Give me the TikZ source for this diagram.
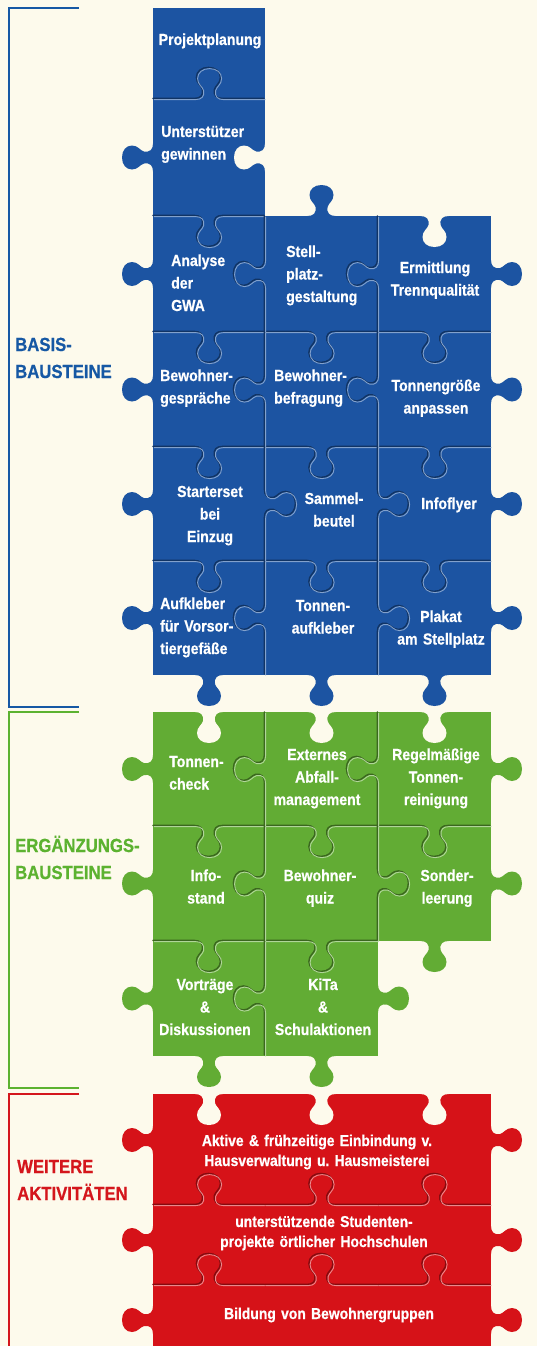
\documentclass[tikz,border=0pt]{standalone}
\usepackage{fontspec}
\setmainfont{Liberation Sans}[FakeStretch=0.88, BoldFeatures={FakeBold=0.6}]
\definecolor{bgc}{RGB}{253,250,236}
\definecolor{pblue}{RGB}{28,84,162}
\definecolor{pgreen}{RGB}{98,172,52}
\definecolor{pred}{RGB}{214,18,24}
\definecolor{tblue}{RGB}{22,88,164}
\definecolor{tgreen}{RGB}{92,178,48}
\definecolor{tred}{RGB}{212,22,28}
\tikzset{
  pics/tab/.style={code={\fill[fill=\tabcol] (-14,-1.5) -- (-14,0) .. controls (-8,0) and (-5,3) .. (-6,9) .. controls (-7,13) and (-12,15) .. (-12,21) .. controls (-12,27) and (-7,31) .. (0,31) .. controls (7,31) and (12,27) .. (12,21) .. controls (12,15) and (7,13) .. (6,9) .. controls (5,3) and (8,0) .. (14,0) -- (14,-1.5) -- cycle;}},
  pics/seam/.style={code={\draw[draw=\seamcol, line width=\seamw, line cap=round, line join=round] (-#1,0) -- (-14,0) .. controls (-8,0) and (-5,3) .. (-6,9) .. controls (-7,13) and (-12,15) .. (-12,21) .. controls (-12,27) and (-7,31) .. (0,31) .. controls (7,31) and (12,27) .. (12,21) .. controls (12,15) and (7,13) .. (6,9) .. controls (5,3) and (8,0) .. (14,0) -- (#1,0);}},
  lbl/.style={text=white, font=\bfseries\fontsize{16}{22.5}\selectfont, inner sep=0pt, text width=112pt},
  lblL/.style={lbl, align=left, anchor=base west},
  lblC/.style={lbl, align=center, anchor=base},
  lblR/.style={text=white, font=\bfseries\fontsize{15.8}{20}\selectfont, inner sep=0pt, text width=260pt, align=center, anchor=base},
  grp/.style={font=\bfseries\fontsize{19}{27}\selectfont, inner sep=0pt, text width=150pt, align=left, anchor=base west},
  brk/.style={line width=2pt}
}
\newcommand\tb[4]{\def\tabcol{#4}\pic[rotate=#3] at (#1,-#2) {tab};}
\newcommand\sm[4]{%
  \def\seamcol{\sdark}\def\seamw{1.4pt}\pic[rotate=#3] at ({#1-0.6},{-#2+0.6}) {seam=#4};
  \def\seamcol{\slight}\def\seamw{0.9pt}\pic[rotate=#3] at ({#1+0.6},{-#2-0.6}) {seam=#4};}
\frenchspacing
\begin{document}
\begin{tikzpicture}[x=1pt,y=1pt]
\useasboundingbox (0,0) rectangle (537,-1346);
\fill[bgc] (0,0) rectangle (537,-1346);
% ---------- BLUE ----------
\fill[pblue] (153,-8) rectangle (265,-216);
\fill[pblue] (153,-216) rectangle (491,-675);
\tb{153}{157.5}{90}{pblue}
\tb{153}{274}{90}{pblue}
\tb{153}{389.5}{90}{pblue}
\tb{153}{504}{90}{pblue}
\tb{153}{618}{90}{pblue}
\tb{491}{274}{-90}{pblue}
\tb{491}{389.5}{-90}{pblue}
\tb{491}{504}{-90}{pblue}
\tb{491}{618}{-90}{pblue}
\tb{321.5}{216}{0}{pblue}
\tb{209}{675}{180}{pblue}
\tb{321.5}{675}{180}{pblue}
\tb{434.5}{675}{180}{pblue}
\tb{265}{157.5}{90}{bgc}
\tb{434.5}{216}{180}{bgc}
\def\sdark{pblue!62!black}\def\slight{pblue!55!white}
\sm{209}{99}{0}{55.5}
\sm{209}{216}{180}{55.5}
\sm{209}{332}{180}{55.5}\sm{321.5}{332}{180}{56.5}\sm{434.5}{332}{180}{56}
\sm{209}{447}{180}{55.5}\sm{321.5}{447}{180}{56.5}\sm{434.5}{447}{180}{56}
\sm{209}{561}{180}{55.5}\sm{321.5}{561}{180}{56.5}\sm{434.5}{561}{180}{56}
\sm{265}{274}{90}{57.5}\sm{265}{389.5}{90}{57}\sm{265}{504}{-90}{57}\sm{265}{618}{90}{56.5}
\sm{378}{274}{90}{57.5}\sm{378}{389.5}{90}{57}\sm{378}{504}{-90}{57}\sm{378}{618}{-90}{56.5}
% ---------- GREEN ----------
\fill[pgreen] (153,-712) rectangle (491,-941);
\fill[pgreen] (153,-941) rectangle (378,-1056);
\tb{153}{769}{90}{pgreen}
\tb{153}{883.5}{90}{pgreen}
\tb{153}{998.5}{90}{pgreen}
\tb{491}{769}{-90}{pgreen}
\tb{491}{883.5}{-90}{pgreen}
\tb{378}{998.5}{-90}{pgreen}
\tb{434.5}{941}{180}{pgreen}
\tb{209}{1056}{180}{pgreen}
\tb{321.5}{1056}{180}{pgreen}
\tb{209}{712}{180}{bgc}
\tb{321.5}{712}{180}{bgc}
\tb{434.5}{712}{180}{bgc}
\def\sdark{pgreen!60!black}\def\slight{pgreen!50!white}
\sm{209}{826}{180}{55.5}\sm{321.5}{826}{180}{56.5}\sm{434.5}{826}{180}{56}
\sm{209}{941}{180}{55.5}\sm{321.5}{941}{180}{56}
\sm{265}{769}{90}{56.5}\sm{265}{883.5}{90}{57}\sm{265}{998.5}{90}{57}
\sm{378}{769}{90}{56.5}\sm{378}{883.5}{-90}{57}
% ---------- RED ----------
\fill[pred] (153,-1094) rectangle (491,-1346);
\tb{153}{1140}{90}{pred}
\tb{153}{1240}{90}{pred}
\tb{153}{1320}{90}{pred}
\tb{491}{1140}{-90}{pred}
\tb{491}{1240}{-90}{pred}
\tb{491}{1320}{-90}{pred}
\tb{209}{1094}{180}{bgc}
\tb{321.5}{1094}{180}{bgc}
\tb{434.5}{1094}{180}{bgc}
\def\sdark{pred!62!black}\def\slight{pred!50!white}
\sm{209}{1205}{0}{55.5}\sm{321.5}{1205}{0}{56.5}\sm{434.5}{1205}{0}{56}
\sm{209}{1285}{0}{55.5}\sm{321.5}{1285}{0}{56.5}\sm{434.5}{1285}{0}{56}
% ---------- brackets ----------
\draw[brk, tblue] (79,-8) -- (8.5,-8) -- (8.5,-707) -- (79,-707);
\draw[brk, tgreen] (79,-712) -- (8.5,-712) -- (8.5,-1088) -- (79,-1088);
\draw[brk, tred] (79,-1094) -- (8.5,-1094) -- (8.5,-1350);
\node[grp, text=tblue] (gb) at (15,-351) {BASIS-\\BAUSTEINE};
\node[grp, text=tgreen] (gg) at (15,-852) {ERGÄNZUNGS-\\BAUSTEINE};
\node[grp, text=tred] (gr) at (17,-1173) {WEITERE\\AKTIVITÄTEN};
% ---------- labels blue ----------
\node[lblC] (b1) at (210,-45) {Projektplanung};
\node[lblL] (b2) at (161,-137) {Unterstützer\\gewinnen};
\node[lblL] (b3) at (171,-266) {Analyse\\der\\GWA};
\node[lblL] (b4) at (286,-257) {Stell-\\platz-\\gestaltung};
\node[lblC] (b5) at (435,-273) {Ermittlung\\Trennqualität};
\node[lblL] (b6) at (160,-381) {Bewohner-\\gespräche};
\node[lblL] (b7) at (274,-381) {Bewohner-\\befragung};
\node[lblC] (b8) at (436,-391) {Tonnengröße\\anpassen};
\node[lblC] (b9) at (210,-497) {Starterset\\bei\\Einzug};
\node[lblC] (b10) at (334,-504) {Sammel-\\beutel};
\node[lblC] (b11) at (449,-509) {Infoflyer};
\node[lblL] (b12) at (160,-609) {Aufkleber\\für Vorsor-\\tiergefäße};
\node[lblC] (b13) at (323,-611) {Tonnen-\\aufkleber};
\node[lblC] (b14) at (441,-622) {Plakat\\am Stellplatz};
% ---------- labels green ----------
\node[lblL] (g1) at (169,-767) {Tonnen-\\check};
\node[lblC] (g2) at (317,-760) {Externes\\Abfall-\\management};
\node[lblC] (g3) at (436,-760) {Regelmäßige\\Tonnen-\\reinigung};
\node[lblC] (g4) at (206,-881) {Info-\\stand};
\node[lblC] (g5) at (320,-881) {Bewohner-\\quiz};
\node[lblC] (g6) at (447,-881) {Sonder-\\leerung};
\node[lblC] (g7) at (205,-990) {Vorträge\\\&\\Diskussionen};
\node[lblC] (g8) at (323,-990) {KiTa\\\&\\Schulaktionen};
% ---------- labels red ----------
\node[lblR] (r1) at (317,-1146) {Aktive \& frühzeitige Einbindung v.\\Hausverwaltung u. Hausmeisterei};
\node[lblR] (r2) at (324,-1227) {unterstützende Studenten-\\projekte örtlicher Hochschulen};
\node[lblR] (r3) at (329,-1319) {Bildung von Bewohnergruppen};
\end{tikzpicture}
\end{document}
